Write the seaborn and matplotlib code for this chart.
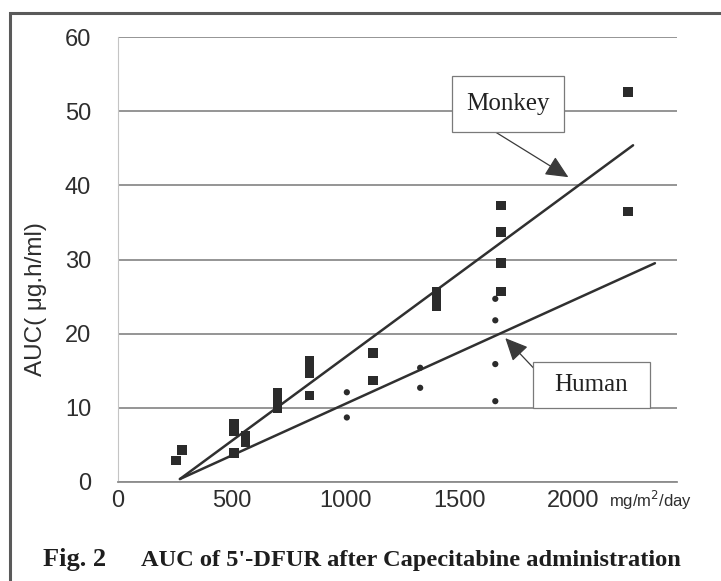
import numpy as np
import pandas as pd
import matplotlib
matplotlib.use("Agg")
import matplotlib.pyplot as plt
from matplotlib.patches import Rectangle
import seaborn as sns

# Dose (mg/m2/day) and AUC of 5'-DFUR (ug.h/ml)
dose_monkey = [255, 281, 510, 510, 510, 560, 560, 700, 700, 700,
               840, 840, 840, 840, 1120, 1120, 1400, 1400, 1400,
               1682, 1682, 1682, 1682, 2240, 2240]
auc_monkey = [2.9, 4.3, 7.9, 6.9, 3.9, 6.3, 5.4, 12.0, 10.8, 10.0,
              16.4, 15.4, 14.7, 11.7, 17.4, 13.7, 25.6, 24.7, 23.7,
              37.3, 33.7, 29.5, 25.7, 52.6, 36.5]

dose_human = [1005, 1005, 1327, 1327, 1657, 1657, 1657, 1657]
auc_human = [12.1, 8.7, 15.4, 12.7, 24.7, 21.8, 15.9, 10.9]

# Regression lines (end points)
fit_dose_monkey = [272, 2262]
fit_auc_monkey = [0.4, 45.4]
fit_dose_human = [272, 2358]
fit_auc_human = [0.4, 29.5]

x_ticks = [0, 500, 1000, 1500, 2000]
y_ticks = [0, 10, 20, 30, 40, 50, 60]

monkey = pd.DataFrame({"dose": dose_monkey, "auc": auc_monkey})
human = pd.DataFrame({"dose": dose_human, "auc": auc_human})
fit_monkey = pd.DataFrame({"dose": fit_dose_monkey, "auc": fit_auc_monkey})
fit_human = pd.DataFrame({"dose": fit_dose_human, "auc": fit_auc_human})

sns.set_theme(style="white")
plt.rcParams["font.family"] = ["Liberation Sans", "DejaVu Sans"]

W, H = 721, 581
fig = plt.figure(figsize=(W / 100, H / 100), dpi=100)
fig.patch.set_facecolor("white")


def fx(px):
    return px / W


def fy(py):
    return 1 - py / H


ax = fig.add_axes([fx(118), fy(482), (677 - 118) / W, (482 - 37) / H])
ax.set_facecolor("white")

grid_c = "#8c8c8c"
ink = "#2b2b2b"

sns.lineplot(data=fit_monkey, x="dose", y="auc", ax=ax, color="#303030",
             lw=1.8, estimator=None, sort=False)
sns.lineplot(data=fit_human, x="dose", y="auc", ax=ax, color="#303030",
             lw=1.8, estimator=None, sort=False)
sns.scatterplot(data=monkey, x="dose", y="auc", ax=ax, marker="s", s=46,
                color=ink, edgecolor="none", zorder=3)
sns.scatterplot(data=human, x="dose", y="auc", ax=ax, marker="o", s=20,
                color=ink, edgecolor="none", zorder=3)

ax.set_xlim(0, 2455)
ax.set_ylim(0, 60)
ax.set_xticks(x_ticks)
ax.set_yticks(y_ticks)
ax.set_xlabel("")
ax.set_ylabel("")

ax.set_axisbelow(True)
ax.yaxis.grid(True, color=grid_c, lw=1.3)
ax.xaxis.grid(False)
for side in ("top", "right"):
    ax.spines[side].set_visible(False)
ax.spines["left"].set_color("#c4c4c4")
ax.spines["left"].set_linewidth(0.8)
ax.spines["bottom"].set_color(grid_c)
ax.spines["bottom"].set_linewidth(1.3)

ax.tick_params(axis="y", direction="out", length=9.4, width=1.3,
               color=grid_c, pad=10, labelsize=17, labelcolor="#2e2e2e")
ax.tick_params(axis="x", direction="in", length=6.5, width=0.9,
               color="#a8a8a8", pad=6, labelsize=17, labelcolor="#2e2e2e")

# Callout boxes with arrows
serif = ["Liberation Serif", "DejaVu Serif"]
ax.annotate("", xy=(1978, 41.1), xytext=(1657, 47.2),
            arrowprops=dict(arrowstyle="-|>,head_length=1.4,head_width=0.65",
                            color="#3a3a3a", lw=0.9, mutation_scale=10,
                            shrinkA=0, shrinkB=0))
ax.annotate("", xy=(1701, 19.4), xytext=(1824, 15.4),
            arrowprops=dict(arrowstyle="-|>,head_length=1.4,head_width=0.65",
                            color="#3a3a3a", lw=0.9, mutation_scale=10,
                            shrinkA=0, shrinkB=0))

for (x0, y0, x1, y1), label in [((452, 76, 564, 132), "Monkey"),
                                ((533, 362, 650, 408), "Human")]:
    fig.add_artist(Rectangle((fx(x0), fy(y1)), (x1 - x0) / W, (y1 - y0) / H,
                             transform=fig.transFigure, fc="white",
                             ec="#7a7a7a", lw=0.9, zorder=5))
    fig.text(fx((x0 + x1) / 2), fy((y0 + y1) / 2), label, ha="center",
             va="center", fontsize=18, family=serif, color="#222222",
             zorder=6)

# Axis titles
fig.text(fx(36), fy(299), "AUC( μg.h/ml)", rotation=90, ha="center",
         va="center", fontsize=17.5, color="#2e2e2e")
fig.text(fx(650), fy(500), "mg/m$^2$/day", ha="center", va="center",
         fontsize=12, color="#2e2e2e")

# Figure caption
fig.text(fx(43), fy(566), "Fig. 2", ha="left", va="baseline", fontsize=19,
         family=serif, weight="bold", color="#1e1e1e")
fig.text(fx(141), fy(566), "AUC of 5'-DFUR after Capecitabine administration",
         ha="left", va="baseline", fontsize=17.6, family=serif, weight="bold",
         color="#1e1e1e")

# Outer frame
fig.add_artist(Rectangle((fx(10), -0.05), 1.0, fy(13) + 0.05,
                         transform=fig.transFigure, fill=False,
                         ec="#5a5a5a", lw=2.2))

fig.savefig("out.png", dpi=100, facecolor="white")
